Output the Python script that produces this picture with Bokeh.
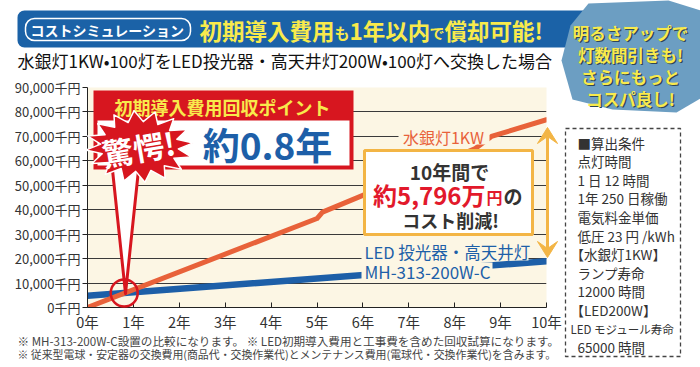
import numpy as np
from bokeh.plotting import figure
from bokeh.models import Range1d, FixedTicker
from bokeh.core.properties import value
from bokeh.embed import file_html
from bokeh.resources import INLINE

# ---------------- data ----------------
years_hg = [0, 5, 5.12, 8.45, 8.8, 10]
cost_hg = [0, 36400, 39000, 65000, 70000, 76800]      # 千円, 水銀灯1KW
years_led = [0, 10]
cost_led = [4800, 18900]                               # 千円, LED
payback_year = 0.8

x_ticks = [0, 1, 2, 3, 4, 5, 6, 7, 8, 9, 10]
x_tick_labels = ["0年", "1年", "2年", "3年", "4年", "5年", "6年", "7年", "8年", "9年", "10年"]
y_ticks = [0, 10000, 20000, 30000, 40000, 50000, 60000, 70000, 80000, 90000]
y_tick_labels = ["0千円", "10,000千円", "20,000千円", "30,000千円", "40,000千円",
                 "50,000千円", "60,000千円", "70,000千円", "80,000千円", "90,000千円"]

cond_lines = ["■算出条件", "点灯時間", "1 日 12 時間", "1年 250 日稼働", "電気料金単価",
              "低圧 23 円 /kWh", "【水銀灯1KW】", "ランプ寿命", "12000 時間", "【LED200W】",
              "LED モジュール寿命", "65000 時間"]

FONT = "Noto Sans CJK JP"
CREAM = "#fcf6e4"
RED = "#d7161f"
BLUE = "#1d5fa8"
ORANGE = "#e8623a"
YELLOW = "#f8ea4c"
GOLD = "#f3b545"

W, H = 700, 367
FL, FR, FT, FB = 87, 546, 87, 307          # frame edges in canvas pixels
XMAX, YMAX = 10, 90000

p = figure(width=W, height=H, x_range=Range1d(0, XMAX), y_range=Range1d(0, YMAX),
           output_backend="svg", toolbar_location=None,
           min_border_left=FL, min_border_right=W - FR, min_border_top=FT, min_border_bottom=H - FB)
p.background_fill_color = CREAM
p.border_fill_color = "white"
p.outline_line_color = None

p.xgrid.grid_line_color = None
p.ygrid.grid_line_color = "#3a3a3a"
p.ygrid.grid_line_width = 1

p.xaxis.ticker = FixedTicker(ticks=x_ticks)
p.xaxis.major_label_overrides = {t: s for t, s in zip(x_ticks, x_tick_labels)}
p.yaxis.ticker = FixedTicker(ticks=y_ticks)
p.yaxis.major_label_overrides = {t: s for t, s in zip(y_ticks, y_tick_labels)}
for ax in (p.xaxis, p.yaxis):
    ax.axis_line_color = "#222222"
    ax.major_tick_line_color = "#222222"
    ax.minor_tick_line_color = None
    ax.major_label_text_font = FONT
    ax.major_label_text_color = "#333333"
p.xaxis.major_tick_in = 5
p.xaxis.major_tick_out = 0
p.xaxis.major_label_text_font_size = "14.5px"
p.xaxis.major_label_standoff = 3
p.yaxis.major_tick_in = 0
p.yaxis.major_tick_out = 5
p.yaxis.major_label_text_font_size = "13px"
p.yaxis.major_label_standoff = 2

p.line(years_led, cost_led, line_width=6.5, color=BLUE, line_cap="round", line_join="round")
p.line(years_hg, cost_hg, line_width=5, color=ORANGE, line_cap="round", line_join="round")


# ------------- helpers: canvas pixel positions -> data units for decorations -------------
def dx(px):
    return (px - FL) * XMAX / (FR - FL)


def dy(py):
    return (FB - py) * YMAX / (FB - FT)


def lab(text, px, py, size, color, bold=False, align="left", baseline="middle", angle=0):
    p.text(x=[dx(px)], y=[dy(py)], text=[text], text_font=value(FONT),
           text_font_size=f"{size}px", text_color=color,
           text_font_style="bold" if bold else "normal", text_align=align,
           text_baseline=baseline, angle=angle, level="overlay")


def box(l, t, r, b, fill, line=None, lw=1, radius=0):
    kw = {"border_radius": radius} if radius else {}
    p.quad(left=[dx(l)], right=[dx(r)], top=[dy(t)], bottom=[dy(b)],
           fill_color=fill, line_color=line, line_width=lw, level="overlay", **kw)


def poly(pts, fill, line=None, lw=1):
    p.patch([dx(a) for a, b in pts], [dy(b) for a, b in pts], fill_color=fill,
            line_color=line, line_width=lw, line_join="round", level="overlay")


# header banner
box(17, 10, 600, 47, "#1b62a7", radius=7)
box(25, 18, 190, 40, None, line="white", lw=1.5, radius=9)
lab("コストシミュレーション", 107, 29.5, 14, "white", bold=True, align="center")
lab("初期導入費用", 199, 29, 22.5, YELLOW, bold=True)
lab("も", 334, 32, 15, YELLOW, bold=True)
lab("1年以内", 349, 29, 22.5, YELLOW, bold=True)
lab("で", 429, 32, 15, YELLOW, bold=True)
lab("償却可能!", 444, 29, 22.5, YELLOW, bold=True)

# top right blob
poly([(588, 3), (668, 0), (700, 10), (700, 98), (676, 112), (612, 109), (572, 99),
      (561, 60), (570, 25)], "#6c9ec2")
for i, t in enumerate(["明るさアップで", "灯数間引きも!", "さらにもっと", "コスパ良し!"]):
    lab(t, 630 + 1.2, 32.5 + 22 * i + 1.2, 16.5, "#2f4656", bold=True, align="center")
    lab(t, 630, 32.5 + 22 * i, 16.5, YELLOW, bold=True, align="center")

# subtitle
lab("水銀灯1KW•100灯をLED投光器・高天井灯200W•100灯へ交換した場合", 17, 60, 17, "#111111")

# payback callout
box(93, 90, 353, 169, RED)
box(97, 120, 349, 165, "white")
lab("初期導入費用回収ポイント", 222, 106, 18, YELLOW, bold=True, align="center")
lab("約0.8年", 267, 143, 37, BLUE, bold=True, align="center")
poly([(111, 160), (139, 160), (125, 293)], "white", line=RED, lw=3)
n = 16
ang = np.linspace(0, 2 * np.pi, 2 * n, endpoint=False) + 0.1
rx = np.where(np.arange(2 * n) % 2 == 0, 54, 39)
ry = np.where(np.arange(2 * n) % 2 == 0, 36, 25)
star = [(139 + a * np.cos(t), 146 - b * np.sin(t)) for a, b, t in zip(rx, ry, ang)]
poly(star, RED, line="white", lw=1.5)
lab("驚愕!", 138, 147, 31, "white", bold=True, align="center", angle=0.17)
p.scatter([payback_year], [float(np.interp(payback_year, years_led, cost_led))], size=27,
          marker="circle", fill_color=None, line_color=RED, line_width=2.5, level="overlay")

# series labels (cream backing hides grid / line under the text)
box(398, 128, 489, 144, CREAM)
lab("水銀灯1KW", 443, 136, 16, ORANGE, align="center")
box(361, 243, 528, 260, CREAM)
lab("LED 投光器・高天井灯", 364, 251, 16.5, BLUE)
box(361, 262, 492, 279, CREAM)
lab("MH-313-200W-C", 364, 270.5, 17, BLUE)

# savings box
box(364, 150, 532, 234, "white", line=GOLD, lw=3)
lab("10年間で", 449, 171, 19, "#333333", bold=True, align="center")
lab("約5,796万", 485, 194, 24, "#e2192b", bold=True, align="right")
lab("円", 486, 196, 16, "#e2192b", bold=True)
lab("の", 503, 195, 19, "#333333", bold=True)
lab("コスト削減!", 450, 219, 18, "#333333", bold=True, align="center")
# double headed arrow
p.segment(x0=[dx(547)], y0=[dy(132)], x1=[dx(547)], y1=[dy(252)], line_color=GOLD,
          line_width=3, level="overlay")
poly([(537, 143), (547, 127), (557, 143), (547, 136)], GOLD, line=GOLD, lw=1)
poly([(537, 241), (547, 257), (557, 241), (547, 248)], GOLD, line=GOLD, lw=1)

# conditions box (dashed)
bx = [565, 680, 680, 565, 565]
by = [128, 128, 356, 356, 128]
p.line([dx(v) for v in bx], [dy(v) for v in by], line_color="#444444", line_width=1.3,
       line_dash="4 3", level="overlay")
for i, t in enumerate(cond_lines):
    size = 11.5 if t.startswith("LED") else 13.5
    x0 = 570 if t.startswith("【") or t.startswith("LED") else 577
    lab(t, x0, 142 + 18.6 * i, size, "#333333")

# footnotes
lab("※ MH-313-200W-C設置の比較になります。 ※ LED初期導入費用と工事費を含めた回収試算になります。",
    17, 340, 11.6, "#444444")
lab("※ 従来型電球・安定器の交換費用(商品代・交換作業代)とメンテナンス費用(電球代・交換作業代)を含みます。",
    17, 353, 10.9, "#444444")

open("out.html", "w").write(file_html(p, INLINE))
